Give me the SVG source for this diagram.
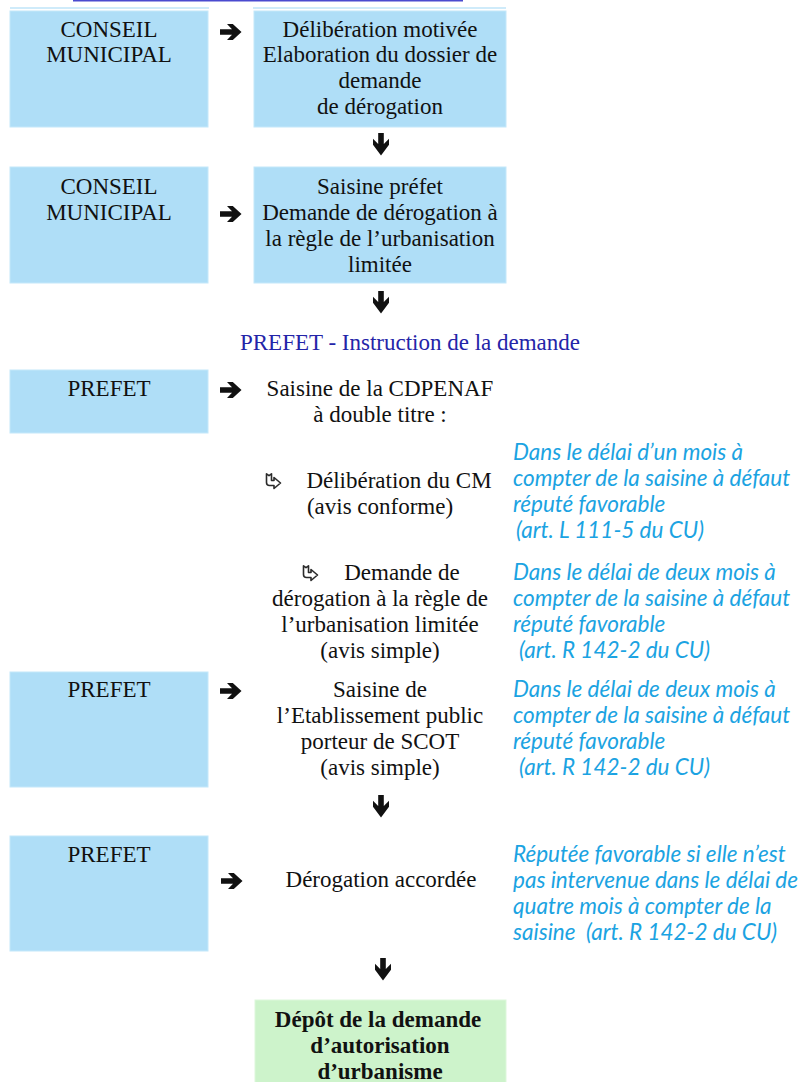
<svg xmlns="http://www.w3.org/2000/svg" width="798" height="1082" viewBox="0 0 798 1082">
<style>
.box{fill:#AFDEF7;stroke:#C4E8FA;stroke-width:1}
.green{fill:#CDF3CB;stroke:#DDF7DB;stroke-width:1}
.t{font-family:"Liberation Serif","Times New Roman",serif;font-size:23px;fill:#111;text-anchor:middle}
.b{font-weight:bold}
.hd{font-family:"Liberation Serif","Times New Roman",serif;font-size:23px;fill:#2424A8;text-anchor:middle}
.n{font-family:Lato,"Open Sans",sans-serif;font-style:italic;font-size:22.5px;fill:#1BA3E2}
.arr{fill:#111}
.hook{fill:#fff;stroke:#2a2a2a;stroke-width:1.6;stroke-linejoin:round}
</style>
<defs>
<path id="ra" d="M-11,-2.8 H1 L-4,-8 H1.8 L10.5,0 L1.8,8 H-4 L1,2.8 H-11 Z"/>
<path id="da" d="M-2.8,-11 H2.8 V0 L8,-5.2 V0.8 L0,11.5 L-8,0.8 V-5.2 L-2.8,0 Z"/>
<path id="hk" d="M1.5,0.8 L4,2.6 L6.5,0.8 V7.5 H9 V4.5 L15.5,10 L9,15.5 V12.5 H4.5 Q1.5,12.5 1.5,9.5 Z"/>
</defs>

<g id="title-fragment">
<line x1="73" y1="0.8" x2="463" y2="0.8" stroke="#4A4ACF" stroke-width="1.6"/>
<line x1="10" y1="8" x2="209" y2="8" stroke="#BFE5F8" stroke-width="1.5"/>
<line x1="253" y1="8" x2="506" y2="8" stroke="#BFE5F8" stroke-width="1.5"/>
</g>

<g id="n1-conseil">
<rect class="box" x="10" y="11" width="198" height="116"/>
<text class="t" x="109" y="37">CONSEIL</text>
<text class="t" x="109" y="62">MUNICIPAL</text>
</g>
<g id="n1-deliberation">
<rect class="box" x="254" y="11" width="252" height="116"/>
<text class="t" x="380" y="37">Délibération motivée</text>
<text class="t" x="380" y="62">Elaboration du dossier de</text>
<text class="t" x="380" y="88">demande</text>
<text class="t" x="380" y="114">de dérogation</text>
</g>

<g id="n2-conseil">
<rect class="box" x="10" y="167" width="198" height="116"/>
<text class="t" x="109" y="194">CONSEIL</text>
<text class="t" x="109" y="220">MUNICIPAL</text>
</g>
<g id="n2-saisine">
<rect class="box" x="254" y="167" width="252" height="116"/>
<text class="t" x="380" y="194">Saisine préfet</text>
<text class="t" x="380" y="220">Demande de dérogation à</text>
<text class="t" x="380" y="246">la règle de l’urbanisation</text>
<text class="t" x="380" y="272">limitée</text>
</g>

<g id="heading">
<text class="hd" x="410" y="350">PREFET - Instruction de la demande</text>
</g>

<g id="n3-prefet">
<rect class="box" x="10" y="370" width="198" height="63"/>
<text class="t" x="109" y="396">PREFET</text>
</g>
<g id="n3-cdpenaf">
<text class="t" x="380" y="396">Saisine de la CDPENAF</text>
<text class="t" x="380" y="422">à double titre :</text>
</g>
<g id="n3a-cm">
<use href="#hk" class="hook" x="265" y="473"/>
<text class="t" x="399" y="488">Délibération du CM</text>
<text class="t" x="380" y="514">(avis conforme)</text>
</g>
<g id="n3b-derog">
<use href="#hk" class="hook" x="302" y="565"/>
<text class="t" x="402" y="580">Demande de</text>
<text class="t" x="380" y="606">dérogation à la règle de</text>
<text class="t" x="380" y="632">l’urbanisation limitée</text>
<text class="t" x="380" y="658">(avis simple)</text>
</g>

<g id="n4-prefet">
<rect class="box" x="10" y="672" width="198" height="115"/>
<text class="t" x="109" y="697">PREFET</text>
</g>
<g id="n4-scot">
<text class="t" x="380" y="697">Saisine de</text>
<text class="t" x="380" y="723">l’Etablissement public</text>
<text class="t" x="380" y="749">porteur de SCOT</text>
<text class="t" x="380" y="775">(avis simple)</text>
</g>

<g id="n5-prefet">
<rect class="box" x="10" y="836" width="198" height="115"/>
<text class="t" x="109" y="862">PREFET</text>
</g>
<g id="n5-derog">
<text class="t" x="381" y="887">Dérogation accordée</text>
</g>

<g id="n6-depot">
<rect class="green" x="255" y="1000" width="251" height="90"/>
<text class="t b" x="378" y="1027">Dépôt de la demande</text>
<text class="t b" x="380" y="1053">d’autorisation</text>
<text class="t b" x="380" y="1079">d’urbanisme</text>
</g>

<g id="notes">
<text class="n" x="513" y="460">Dans le délai d’un mois à</text>
<text class="n" x="513" y="486">compter de la saisine à défaut</text>
<text class="n" x="513" y="512">réputé favorable</text>
<text class="n" x="516" y="538">(art. L 111-5 du CU)</text>
<text class="n" x="513" y="580">Dans le délai de deux mois à</text>
<text class="n" x="513" y="606">compter de la saisine à défaut</text>
<text class="n" x="513" y="632">réputé favorable</text>
<text class="n" x="519" y="658">(art. R 142-2 du CU)</text>
<text class="n" x="513" y="697">Dans le délai de deux mois à</text>
<text class="n" x="513" y="723">compter de la saisine à défaut</text>
<text class="n" x="513" y="749">réputé favorable</text>
<text class="n" x="519" y="775">(art. R 142-2 du CU)</text>
<text class="n" x="513" y="862">Réputée favorable si elle n’est</text>
<text class="n" x="513" y="888">pas intervenue dans le délai de</text>
<text class="n" x="513" y="914">quatre mois à compter de la</text>
<text class="n" x="513" y="940" xml:space="preserve">saisine  (art. R 142-2 du CU)</text>
</g>

<g id="connectors" class="arr">
<use href="#ra" x="231" y="32"/>
<use href="#ra" x="231" y="214"/>
<use href="#ra" x="231" y="390"/>
<use href="#ra" x="231" y="691"/>
<use href="#ra" x="232" y="881"/>
<use href="#da" x="381" y="144"/>
<use href="#da" x="381" y="302"/>
<use href="#da" x="381" y="806"/>
<use href="#da" x="383" y="969"/>
</g>
</svg>
